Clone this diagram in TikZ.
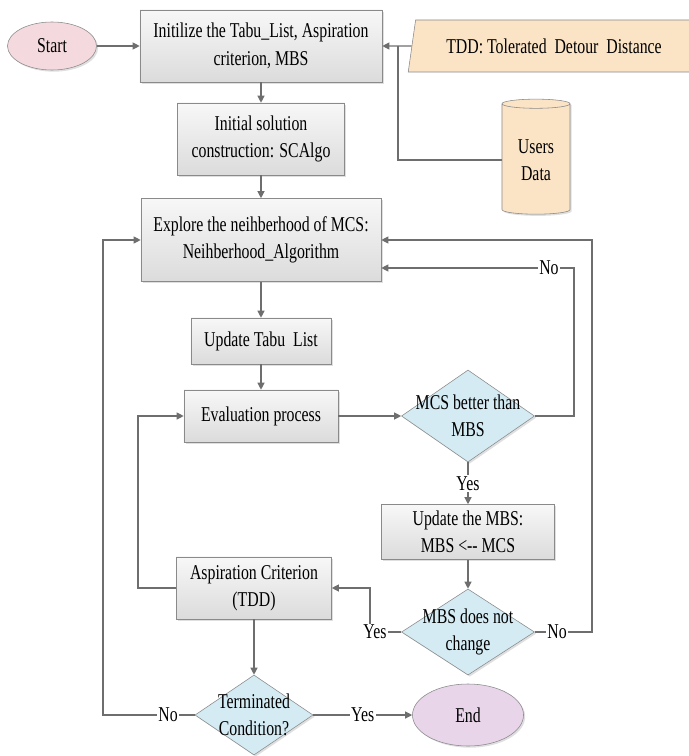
\documentclass[tikz,border=0pt]{standalone}
\usepackage{fontspec}
\setmainfont{Liberation Serif}[FakeStretch=0.75]
\usetikzlibrary{shapes.geometric,arrows.meta,shadows}
\definecolor{linegray}{HTML}{6E6E6E}
\definecolor{boxedge}{HTML}{8A8A8A}
\definecolor{startpink}{HTML}{F4DADF}
\definecolor{endlilac}{HTML}{E8D5EA}
\definecolor{datapeach}{HTML}{FBE3C6}
\definecolor{decblue}{HTML}{D4EBF3}

\begin{document}
\begin{tikzpicture}[x=0.025cm,y=-0.025cm,
		font=\fontsize{15}{19.5}\selectfont,
		every node/.style={align=center,inner sep=2pt},
		shade/.style={drop shadow={shadow xshift=1.2pt,shadow yshift=-1.2pt,opacity=0.25}},
		proc/.style={rectangle,draw=boxedge,top color=white!97!black,bottom color=white!86!black,shade},
		startstop/.style={ellipse,draw=boxedge,shade},
		decide/.style={diamond,draw=boxedge,fill=decblue,inner sep=0pt,shade},
		dataio/.style={trapezium,trapezium left angle=74,trapezium right angle=106,trapezium stretches=true,draw=boxedge,fill=datapeach},
		store/.style={cylinder,shape border rotate=90,aspect=0.22,draw=boxedge,fill=datapeach,shade},
		line/.style={draw=linegray,line width=0.8pt},
		arr/.style={line,-{Triangle[length=5pt,width=5pt]}},
		lbl/.style={fill=white,inner sep=1pt}]
		\useasboundingbox (0,0) rectangle (689,756);

		\node[startstop,fill=startpink,minimum width=2.225cm,minimum height=1.2cm] (start) at (52,46) {Start};
		\node[proc,minimum width=6.05cm,minimum height=1.8cm] (init) at (261,46) {Initilize the Tabu\_List, Aspiration\\criterion, MBS};
		\node[dataio,minimum width=7.3cm,minimum height=1.3cm] (tdd) at (554,46) {TDD: Tolerated~ Detour~ Distance};
		\node[store,minimum width=1.7cm,minimum height=2.875cm] (users) at (536,160) {Users\\Data};
		\node[proc,minimum width=4.175cm,minimum height=1.8cm] (initsol) at (261,139) {Initial solution\\construction: SCAlgo};
		\node[proc,minimum width=6cm,minimum height=2.075cm] (explore) at (261,240) {Explore the neihberhood of MCS:\\Neihberhood\_Algorithm};
		\node[proc,minimum width=3.5cm,minimum height=1.15cm] (tabu) at (261,341) {Update Tabu~ List};
		\node[proc,minimum width=3.85cm,minimum height=1.3cm] (eval) at (261,416) {Evaluation process};
		\node[decide,minimum width=3.325cm,minimum height=2.3cm,label={[align=center]center:MCS better than\\MBS}] (mcs) at (468,416) {};
		\node[proc,minimum width=4.325cm,minimum height=1.375cm] (upd) at (468,532) {Update the MBS:\\MBS <-{}- MCS};
		\node[decide,minimum width=3.325cm,minimum height=2.15cm,label={[align=center]center:MBS does not\\change}] (mbs) at (468,632) {};
		\node[proc,minimum width=3.875cm,minimum height=1.55cm] (asp) at (254,588) {Aspiration Criterion\\(TDD)};
		\node[decide,minimum width=2.95cm,minimum height=2cm,label={[align=center]center:Terminated\\Condition?}] (term) at (254,715) {};
		\node[startstop,fill=endlilac,minimum width=2.775cm,minimum height=1.55cm] (end) at (468,715) {End};

		% main flow
		\draw[arr] (start) -- (init);
		\draw[arr] (init) -- (initsol);
		\draw[arr] (initsol) -- (explore);
		\draw[arr] (explore) -- (tabu);
		\draw[arr] (tabu) -- (eval);
		\draw[arr] (eval) -- (mcs);
		\draw[arr] (mcs) -- node[lbl]{Yes} (upd);
		\draw[arr] (upd) -- (mbs);
		\draw[arr] (asp) -- (term);
		\draw[arr] (term) -- node[lbl]{Yes} (end);

		% inputs
		\coordinate (tap) at (398,46);
		\draw[arr] (tdd.west) -- (init.east);
		\draw[line] (users.west) -| (tap);

		% loops back
		\coordinate (noA) at (574,268);
		\draw[arr] (mcs.east) -| (noA) -- node[lbl,pos=0.13]{No} (noA -| explore.east);
		\coordinate (noB) at (592,240);
		\draw[arr] (mbs.east) -- node[lbl,pos=0.39]{No} (mbs.east -| noB) -- (noB) -- (explore.east);
		\coordinate (yesA) at (370,588);
		\draw[arr] (mbs.west) -- node[lbl,pos=0.84]{Yes} (mbs.west -| yesA) -- (yesA) -- (asp.east);
		\coordinate (back) at (138,416);
		\draw[arr] (asp.west) -| (back) -- (eval.west);
		\coordinate (noC) at (103,240);
		\draw[arr] (term.west) -- node[lbl,pos=0.29]{No} (term.west -| noC) -- (noC) -- (explore.west);
\end{tikzpicture}
\end{document}
